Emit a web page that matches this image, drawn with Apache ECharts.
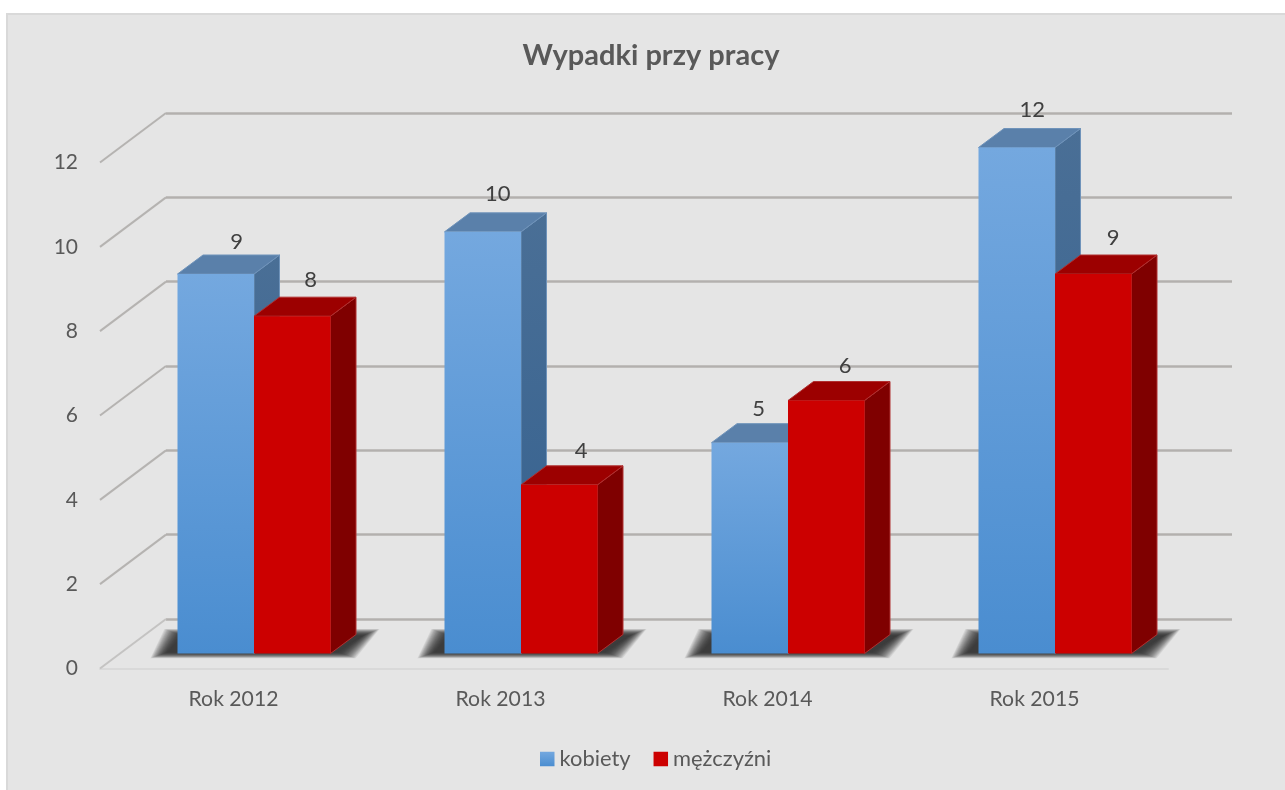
<!DOCTYPE html>
<html><head><meta charset="utf-8">
<style>html,body{margin:0;padding:0;background:#fff}#c{width:1285px;height:790px}</style>
<script src="https://cdn.jsdelivr.net/npm/echarts@6/dist/echarts.min.js"></script>
</head><body><div id="c"></div>
<script>
var categories = ['Rok 2012', 'Rok 2013', 'Rok 2014', 'Rok 2015'];
var kobiety = [9, 10, 5, 12];
var mezczyzni = [8, 4, 6, 9];
var yTicks = [0, 2, 4, 6, 8, 10, 12];

var FONT = 'Lato, "Open Sans", sans-serif';
var WALL_DX = 66, WALL_DY = -49.5;   // oblique projection of the back wall
var BAR_DX = 25.5, BAR_DY = -19;     // depth of one bar
var SHIFT_X = 20.5, SHIFT_Y = -15;   // bars stand mid-floor
var BAR_W = 76.5;
// hand placement of the value labels relative to each bar's top
var kobietyNudgeX = [21, 15, 9, 15.5];
var kobietyNudgeY = [-13.5, -19, -15, -19];
var mezczyzniNudgeX = [18.5, 22, 19, 20];
var mezczyzniNudgeY = [-17, -15, -16, -17.5];

function grad(a, b) { return new echarts.graphic.LinearGradient(0, 0, 0, 1, [{offset: 0, color: a}, {offset: 1, color: b}]); }
function poly(pts, fill, stroke) {
  return {type: 'polygon', shape: {points: pts}, style: {fill: fill, stroke: stroke || null, lineWidth: stroke ? 1 : 0}};
}
function barSeries(name, values, side, colors, nudgeX, nudgeY) {
  return {
    name: name, type: 'custom', xAxisIndex: 0, yAxisIndex: 0, z: 5, clip: false,
    itemStyle: {color: colors.legend},
    data: values.map(function (v, i) { return [i, v]; }),
    renderItem: function (params, api) {
      var i = api.value(0);
      var top = api.coord([i, api.value(1)]);
      var base = api.coord([i, 0]);
      var x0 = top[0] + SHIFT_X + (side < 0 ? -BAR_W : 0), x1 = x0 + BAR_W;
      var yt = top[1] + SHIFT_Y, yb = base[1] + SHIFT_Y;
      return {type: 'group', children: [
        poly([[x1, yt], [x1 + BAR_DX, yt + BAR_DY], [x1 + BAR_DX, yb + BAR_DY], [x1, yb]], colors.side, colors.edge),
        poly([[x0, yt], [x0 + BAR_DX, yt + BAR_DY], [x1 + BAR_DX, yt + BAR_DY], [x1, yt]], colors.top, colors.edge),
        poly([[x0, yt], [x1, yt], [x1, yb], [x0, yb]], colors.front),
        {type: 'text', style: {text: String(api.value(1)), x: (x0 + x1) / 2 + nudgeX[i], y: yt + BAR_DY + nudgeY[i],
          align: 'center', verticalAlign: 'middle', fill: '#404040', font: '22px ' + FONT}}
      ]};
    }
  };
}

var blue = {
  front: grad('#74a8df', '#4a8dd0'), side: grad('#4a6f96', '#33608f'),
  top: '#5a80aa', edge: '#6f93ba', legend: grad('#74a8df', '#4a8dd0')
};
var red = {front: '#cc0000', side: '#7f0000', top: '#9c0000', edge: '#b03030', legend: '#cc0000'};

var option = {
  animation: false,
  backgroundColor: '#ffffff',
  graphic: [{type: 'rect', z: -10, silent: true, shape: {x: 7, y: 14, width: 1290, height: 790},
    style: {fill: '#e5e5e5', stroke: '#d9d9d9', lineWidth: 2}}],
  title: {text: 'Wypadki przy pracy', left: 646, top: 36, textAlign: 'center',
    textStyle: {fontFamily: FONT, fontSize: 29, fontWeight: 'bold', color: '#595959'}},
  legend: {left: 535, top: 743, itemWidth: 14.5, itemHeight: 14.5, itemGap: 23, icon: 'rect', selectedMode: false,
    textStyle: {fontFamily: FONT, fontSize: 21.9, color: '#595959'},
    data: ['kobiety', 'mężczyźni']},
  grid: [
    {left: 100, top: 162.5, width: 1068, height: 506},
    {left: 166, top: 113, width: 1066, height: 506}
  ],
  xAxis: [
    {type: 'category', gridIndex: 0, data: categories,
      axisTick: {show: false}, axisLine: {show: true, lineStyle: {color: '#d9d9d9', width: 2}},
      axisLabel: {color: '#595959', fontFamily: FONT, fontSize: 21.2, margin: 20}},
    {type: 'category', gridIndex: 1, data: categories, show: false}
  ],
  yAxis: [
    {type: 'value', gridIndex: 0, min: 0, max: 12, interval: 2,
      axisLine: {show: false}, axisTick: {show: false}, splitLine: {show: false},
      axisLabel: {color: '#595959', fontFamily: FONT, fontSize: 21, margin: 22, padding: [2, 0, 0, 0],
        formatter: function (v) { return yTicks.indexOf(v) >= 0 ? String(v) : ''; }}},
    {type: 'value', gridIndex: 1, min: 0, max: 12, interval: 2,
      axisLine: {show: false}, axisTick: {show: false}, axisLabel: {show: false},
      splitLine: {show: true, lineStyle: {color: '#b3b0ae', width: 2.5}}}
  ],
  series: [
    {
      type: 'custom', name: 'sciana', xAxisIndex: 0, yAxisIndex: 0, z: 1, clip: false, legendHoverLink: false,
      data: yTicks.map(function (t) { return [0, t]; }),
      renderItem: function (params, api) {
        var p = api.coord([0, api.value(1)]);
        var x = p[0] - api.size([1, 0])[0] / 2;
        var zero = api.value(1) === 0;
        return {type: 'line', shape: {x1: x, y1: p[1], x2: x + WALL_DX, y2: p[1] + WALL_DY},
          style: {stroke: zero ? '#c4c3c2' : '#b5b3b1', lineWidth: 2}};
      }
    },
    {
      type: 'custom', name: 'cien', xAxisIndex: 0, yAxisIndex: 0, z: 2, clip: false,
      data: categories.map(function (c, i) { return [i, 0]; }),
      renderItem: function (params, api) {
        var b = api.coord([api.value(0), 0]);
        var xc = b[0] + SHIFT_X, yb = b[1] + SHIFT_Y;
        var x0 = xc - BAR_W, x1 = xc + BAR_W;
        var layers = [];
        var E = 20;
        for (var e = E; e >= 0; e -= 1) {
          var t = 1 - e / E;
          var s = 1 - Math.pow(1 - t, 2.2);
          var g = Math.round(229 + (60 - 229) * s);
          layers.push({type: 'polygon',
            shape: {points: [[x0 - 8 - e, yb - 2 + e * 0.35], [x0 + 6 - e, yb - 17 - e * 0.4],
                             [x1 + 30 + e, yb - 17 - e * 0.4], [x1 + 6 + e, yb - 2 + e * 0.35]]},
            style: {fill: 'rgb(' + g + ',' + g + ',' + g + ')', lineWidth: 0}});
        }
        return {type: 'group', children: layers};
      }
    },
    barSeries('kobiety', kobiety, -1, blue, kobietyNudgeX, kobietyNudgeY),
    barSeries('mężczyźni', mezczyzni, 1, red, mezczyzniNudgeX, mezczyzniNudgeY)
  ]
};
var chart = echarts.init(document.getElementById('c'), null, {renderer: 'canvas', width: 1285, height: 790});
chart.setOption(option);
</script></body></html>
